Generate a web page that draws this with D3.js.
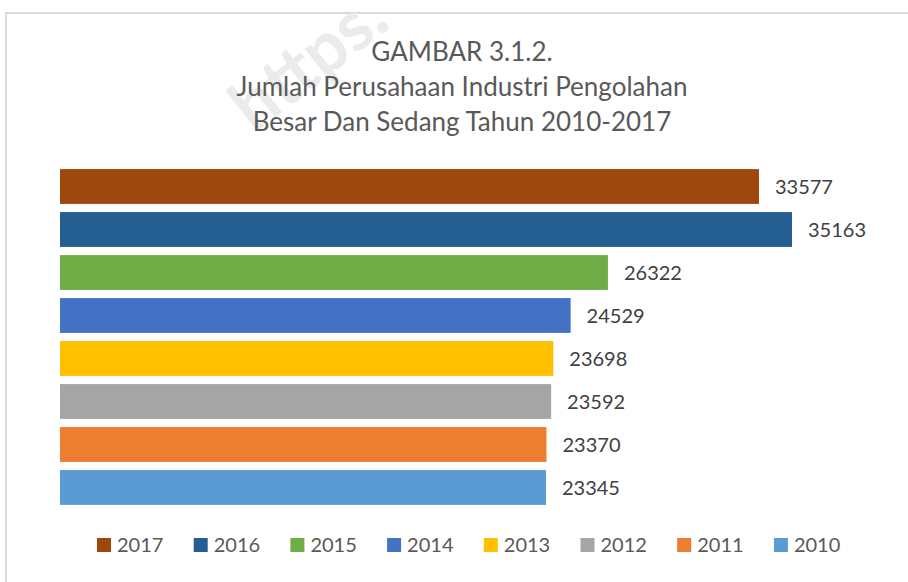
<!DOCTYPE html>
<html>
<head>
<meta charset="utf-8">
<script src="https://cdn.jsdelivr.net/npm/d3@7"></script>
<style>
  body { margin: 0; background: #fff; }
  svg text { font-family: Lato, "Open Sans", sans-serif; }
</style>
</head>
<body>
<div id="chart"></div>
<script>
// data (top bar = 2017)
const years = ["2017", "2016", "2015", "2014", "2013", "2012", "2011", "2010"];
const counts = [33577, 35163, 26322, 24529, 23698, 23592, 23370, 23345];
const colors = ["#9E480E", "#255E91", "#70AD47", "#4472C4", "#FFC000", "#A5A5A5", "#ED7D31", "#5B9BD5"];
const titleLines = ["GAMBAR 3.1.2.", "Jumlah Perusahaan Industri Pengolahan", "Besar Dan Sedang Tahun 2010-2017"];

const width = 908,
    height = 582,
    margin = ({ top: 165, right: 15, bottom: 73, left: 60 });

const data = years.map((y, i) => ({ year: y, value: counts[i], color: colors[i] }));

const svg = d3.select("#chart")
    .append("svg")
    .attr("width", width)
    .attr("height", height)
    .attr("viewBox", [0, 0, width, height]);

// chart frame (only top and left edges show in the crop)
svg.append("path")
    .attr("d", `M6,${height} V13 H${width}`)
    .attr("fill", "none")
    .attr("stroke", "#d9d9d9")
    .attr("stroke-width", 2);

// faint watermark behind the title
svg.append("text")
    .attr("transform", "translate(254,134) rotate(-38)")
    .attr("font-size", 70)
    .attr("font-weight", "bold")
    .attr("fill", "#ebebeb")
    .text("https.");

let x = d3.scaleLinear()
    .domain([0, 40000])
    .range([margin.left, margin.left + 40000 * 0.020817]);

let y = d3.scaleBand()
    .domain(years)
    .range([margin.top, height - margin.bottom])
    .paddingInner(0.19)
    .paddingOuter(0.095);

svg.append("g")
  .selectAll("rect")
  .data(data)
  .join("rect")
    .attr("x", x(0))
    .attr("y", d => y(d.year))
    .attr("width", d => x(d.value) - x(0))
    .attr("height", y.bandwidth())
    .attr("fill", d => d.color);

// value labels
svg.append("g")
  .selectAll("text")
  .data(data)
  .join("text")
    .attr("x", d => x(d.value) + 16)
    .attr("y", d => y(d.year) + y.bandwidth() / 2)
    .attr("dy", "0.36em")
    .attr("font-size", 20)
    .attr("fill", "#404040")
    .text(d => d.value);

// title
svg.append("g")
  .selectAll("text")
  .data(titleLines)
  .join("text")
    .attr("x", 462)
    .attr("y", (d, i) => 61 + i * 35)
    .attr("text-anchor", "middle")
    .attr("font-size", 26)
    .attr("fill", "#595959")
    .text(d => d);

// legend
const legend = svg.append("g")
  .selectAll("g")
  .data(data)
  .join("g")
    .attr("transform", (d, i) => `translate(${97 + i * 96.7},538)`);

legend.append("rect")
    .attr("width", 14)
    .attr("height", 14)
    .attr("fill", d => d.color);

legend.append("text")
    .attr("x", 20)
    .attr("y", 14)
    .attr("font-size", 20)
    .attr("fill", "#595959")
    .text(d => d.year);
</script>
</body>
</html>
